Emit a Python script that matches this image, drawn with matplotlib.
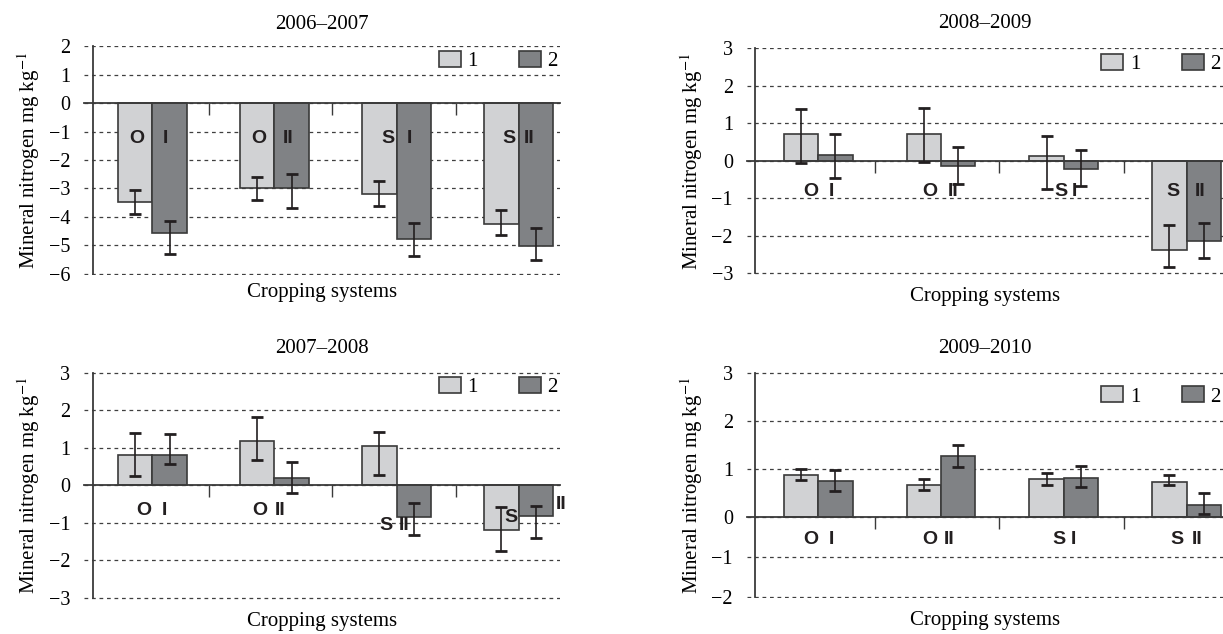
import numpy as np
import matplotlib.pyplot as plt
from matplotlib.patches import Patch

plt.rcParams['font.family'] = ['Liberation Serif', 'DejaVu Serif']
plt.rcParams['mathtext.fontset'] = 'stix'

systems = ["O I", "O II", "S I", "S II"]
series_names = ["1", "2"]

# 2006-2007: bar heights and error bar ends (low, high)
s0607_v1 = [-3.49, -3.0, -3.19, -4.26]
s0607_v2 = [-4.56, -3.0, -4.78, -5.02]
s0607_lo1 = [-3.90, -3.42, -3.61, -4.64]
s0607_hi1 = [-3.07, -2.58, -2.75, -3.77]
s0607_lo2 = [-5.30, -3.68, -5.37, -5.53]
s0607_hi2 = [-4.13, -2.50, -4.22, -4.38]

# 2008-2009
s0809_v1 = [0.70, 0.70, 0.13, -2.37]
s0809_v2 = [0.16, -0.15, -0.21, -2.15]
s0809_lo1 = [-0.07, -0.03, -0.76, -2.83]
s0809_hi1 = [1.37, 1.41, 0.65, -1.71]
s0809_lo2 = [-0.45, -0.62, -0.68, -2.59]
s0809_hi2 = [0.71, 0.36, 0.28, -1.66]

# 2007-2008
s0708_v1 = [0.82, 1.19, 1.04, -1.19]
s0708_v2 = [0.82, 0.19, -0.84, -0.83]
s0708_lo1 = [0.25, 0.67, 0.27, -1.75]
s0708_hi1 = [1.40, 1.81, 1.41, -0.59]
s0708_lo2 = [0.58, -0.22, -1.32, -1.41]
s0708_hi2 = [1.38, 0.62, -0.47, -0.55]

# 2009-2010
s0910_v1 = [0.885, 0.68, 0.79, 0.74]
s0910_v2 = [0.75, 1.28, 0.81, 0.25]
s0910_lo1 = [0.78, 0.57, 0.68, 0.67]
s0910_hi1 = [1.00, 0.80, 0.91, 0.885]
s0910_lo2 = [0.55, 1.05, 0.62, 0.06]
s0910_hi2 = [0.98, 1.50, 1.07, 0.51]

# in-plot system tags (letter, numeral) as printed on each panel
tags_std = [("O", "I"), ("O", "II"), ("S", "I"), ("S", "II")]
tags_0708 = [("O", "I"), ("O", "II"), ("S", "II"), ("S", "II")]

LIGHT = '#d1d2d4'
DARK = '#808285'
EDGE = '#3a3a3a'
INK = '#231f20'
GRID = '#3f3f3f'


# the 2009-2010 axis is drawn with a compressed negative half
def neg_squash(y):
    y = np.asarray(y, dtype=float)
    return np.where(y < 0, y * 0.822, y)


def neg_unsquash(y):
    y = np.asarray(y, dtype=float)
    return np.where(y < 0, y / 0.822, y)


panels = [
    dict(title="2006–2007", rect=[0.0687, 0.5662, 0.3892, 0.3612],
         v1=s0607_v1, v2=s0607_v2, lo1=s0607_lo1, hi1=s0607_hi1, lo2=s0607_lo2, hi2=s0607_hi2,
         yticks=range(-6, 3), xlim=(-0.561, 3.34), tags=tags_std,
         tag_pos=[(-0.13, -1.25, 0.11, -1.25), (-0.13, -1.25, 0.11, -1.25),
                  (-0.07, -1.25, 0.11, -1.25), (-0.08, -1.25, 0.09, -1.25)],
         leg_y=0.934, title_pad=12, xl_gap=16, squash=False),
    dict(title="2008–2009", rect=[0.6105, 0.5662, 0.3894, 0.3585],
         v1=s0809_v1, v2=s0809_v2, lo1=s0809_lo1, hi1=s0809_hi1, lo2=s0809_lo2, hi2=s0809_hi2,
         yticks=range(-3, 4), xlim=(-0.583, 3.296), tags=tags_std,
         tag_pos=[(-0.06, -0.81, 0.105, -0.81), (-0.09, -0.81, 0.10, -0.81),
                  (-0.02, -0.81, 0.09, -0.81), (-0.11, -0.81, 0.11, -0.81)],
         leg_y=0.928, title_pad=14, xl_gap=19, squash=False),
    dict(title="2007–2008", rect=[0.0687, 0.0544, 0.3892, 0.3584],
         v1=s0708_v1, v2=s0708_v2, lo1=s0708_lo1, hi1=s0708_hi1, lo2=s0708_lo2, hi2=s0708_hi2,
         yticks=range(-3, 4), xlim=(-0.561, 3.34), tags=tags_0708,
         tag_pos=[(-0.07, -0.67, 0.10, -0.67), (-0.12, -0.67, 0.05, -0.67),
                  (-0.09, -1.08, 0.06, -1.08), (-0.06, -0.86, 0.35, -0.51)],
         leg_y=0.934, title_pad=14, xl_gap=19, squash=False),
    dict(title="2009–2010", rect=[0.6105, 0.0560, 0.3894, 0.3573],
         v1=s0910_v1, v2=s0910_v2, lo1=s0910_lo1, hi1=s0910_hi1, lo2=s0910_lo2, hi2=s0910_hi2,
         yticks=range(-2, 4), xlim=(-0.583, 3.296), tags=tags_std,
         tag_pos=[(-0.06, -0.55, 0.105, -0.55), (-0.09, -0.55, 0.07, -0.55),
                  (-0.04, -0.55, 0.08, -0.55), (-0.08, -0.55, 0.09, -0.55)],
         leg_y=0.892, title_pad=14, xl_gap=19, squash=True),
]

fig = plt.figure(figsize=(12.23, 6.34), dpi=100)

for p in panels:
    ax = fig.add_axes(p['rect'])
    if p['squash']:
        ax.set_yscale('function', functions=(neg_squash, neg_unsquash))

    x = np.arange(len(systems))
    w = 0.28
    for off, vals, lo, hi, col in [(-w / 2, p['v1'], p['lo1'], p['hi1'], LIGHT),
                                   (w / 2, p['v2'], p['lo2'], p['hi2'], DARK)]:
        vals = np.array(vals)
        ax.bar(x + off, vals, w, color=col, edgecolor=EDGE, linewidth=1.2, zorder=2)
        yerr = [vals - np.array(lo), np.array(hi) - vals]
        ax.errorbar(x + off, vals, yerr=yerr, fmt='none', ecolor=INK,
                    elinewidth=1.2, capsize=4.5, capthick=2, zorder=3)

    for i, (a, b) in enumerate(p['tags']):
        dxa, ya, dxb, yb = p['tag_pos'][i]
        for dx, yy, s in [(dxa, ya, a), (dxb, yb, b)]:
            ax.text(i + dx, yy, s, ha='center', va='center', family='Liberation Sans',
                    weight='bold', fontsize=14, color='#231f20', zorder=4)

    yt = list(p['yticks'])
    ax.set_ylim(yt[0] - 0.05, yt[-1] + 0.015)
    ax.set_yticks(yt)
    ax.set_xlim(*p['xlim'])
    ax.set_xticks([0.46, 1.47, 2.49])
    ax.set_xticklabels([])
    ax.tick_params(axis='x', direction='out', length=8.4, width=1.0, color='#3a3a3a')
    ax.tick_params(axis='y', length=0, pad=16, labelsize=14.5)

    ax.yaxis.grid(True, color=GRID, linestyle=(0, (3, 3)), linewidth=0.9)
    ax.set_axisbelow(True)
    for gl in ax.get_ygridlines():
        gl.set_clip_on(False)

    for side in ['top', 'right']:
        ax.spines[side].set_visible(False)
    ax.spines['left'].set_position(('axes', 0.018))
    ax.spines['left'].set_bounds(yt[0], yt[-1])
    ax.spines['bottom'].set_position(('data', 0))
    for side in ['left', 'bottom']:
        ax.spines[side].set_color('#3a3a3a')
        ax.spines[side].set_linewidth(1.3)
        ax.spines[side].set_zorder(2.5)

    ax.set_title(p['title'], fontsize=15, pad=p['title_pad'])
    ax.annotate('Cropping systems', xy=(0.5, 0), xycoords='axes fraction',
                xytext=(0, -p['xl_gap']), textcoords='offset points',
                ha='center', va='baseline', fontsize=15)
    ax.set_ylabel('Mineral nitrogen mg kg$^{-1}$', fontsize=15)
    ax.yaxis.set_label_coords(-0.088, 0.5)

    handles = [Patch(facecolor=LIGHT, edgecolor=EDGE, linewidth=1.2),
               Patch(facecolor=DARK, edgecolor=EDGE, linewidth=1.2)]
    ax.legend(handles, series_names, loc='center right', bbox_to_anchor=(0.995, p['leg_y']),
              ncol=2, frameon=False, fontsize=15, handlelength=1.06, handleheight=0.8,
              handletextpad=0.3, columnspacing=2.0, borderpad=0, borderaxespad=0)

fig.savefig('out.png', dpi=100, facecolor='white')
